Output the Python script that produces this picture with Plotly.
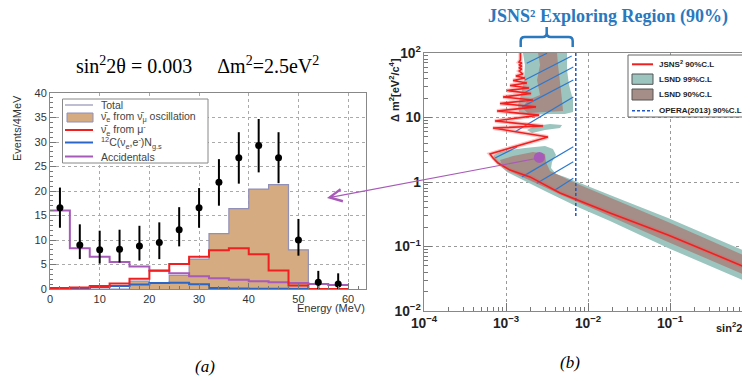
import plotly.graph_objects as go

# ---------------- (a) energy spectrum ----------------
energy_edges = [0, 4, 8, 12, 16, 20, 24, 28, 32, 36, 40, 44, 48, 52, 56, 60]
data_E = [2, 6, 10, 14, 18, 22, 26, 30, 34, 38, 42, 46, 50, 54, 58]
data_N = [16.6, 9.0, 8.0, 8.1, 8.8, 9.5, 12.1, 16.6, 21.8, 26.8, 29.3, 26.8, 10.0, 1.4, 1.0]
data_err_up = [4.1, 4.2, 3.9, 4.0, 4.1, 4.1, 4.6, 4.0, 4.7, 5.2, 5.4, 5.2, 4.3, 2.3, 2.2]
data_err_dn = [4.1, 2.9, 2.8, 2.7, 3.0, 3.4, 3.4, 4.1, 4.8, 5.3, 5.5, 5.2, 3.2, 1.4, 1.0]
osc_signal = [0, 0, 0, 0, 1.6, 1.2, 2.8, 6.1, 11.3, 16.4, 20.4, 21.3, 8.0, 0, 0]
mu_decay = [0.2, 0.3, 0.6, 1.1, 2.1, 3.7, 5.1, 6.6, 7.9, 8.3, 7.1, 3.8, 0.7, 0, 0]
carbon_gs = [0.1, 0.2, 0.4, 0.6, 0.9, 1.2, 1.25, 0.95, 0.2, 0.08, 0.05, 0.03, 0.02, 0.01, 0.0]
accidentals = [16.0, 8.3, 6.6, 5.5, 4.6, 3.8, 3.2, 2.6, 2.2, 1.9, 1.6, 1.4, 1.2, 1.0, 0.8]
left_xticks = [0, 10, 20, 30, 40, 50, 60]
left_yticks = [0, 5, 10, 15, 20, 25, 30, 35, 40]

# ---------------- (b) exclusion plot ----------------
jsns_s2t = [1.50e-3, 1.50e-3, 1.44e-3, 1.56e-3, 1.44e-3, 1.56e-3, 1.44e-3, 1.56e-3, 1.45e-3,
            1.61e-3, 1.32e-3, 1.70e-3, 1.22e-3, 1.80e-3, 1.12e-3, 1.91e-3, 1.03e-3, 2.02e-3,
            9.2e-4, 2.13e-3, 8.45e-4, 2.32e-3, 7.77e-4, 2.53e-3, 7.34e-4, 2.83e-3, 6.94e-4,
            3.25e-3, 6.38e-4, 6.94e-4, 7.99e-4, 1.12e-3, 1.96e-3, 4.56e-3, 1.855e-2, 9.46e-2, 1.0]
jsns_dm2 = [100, 77.9, 72.5, 70.0, 65.2, 62.9, 58.5, 56.5, 52.6,
            47.2, 44.0, 41.0, 37.5, 34.3, 31.3, 28.7, 26.2, 23.6,
            20.8, 18.7, 16.5, 14.6, 12.6, 10.9, 8.83, 7.38, 6.87,
            4.99, 2.72, 2.36, 1.97, 1.53, 1.20, 0.675, 0.331, 0.151, 0.0433]

lsnd99_top_s2t = [1.61e-3, 1.70e-3, 1.66e-3, 1.52e-3, 1.40e-3, 1.44e-3, 1.96e-3, 3.44e-3,
                  5.24e-3, 6.56e-3, 6.56e-3, 5.87e-3, 5.55e-3, 5.55e-3]
lsnd99_top_dm2 = [100, 65.2, 38.1, 22.3, 15.6, 12.2, 10.9, 11.3, 11.3, 12.2, 18.7, 31.9, 54.5, 100]
lsnd99_mid_s2t = [1.80e-3, 2.26e-3, 3.44e-3, 4.82e-3, 4.56e-3, 2.99e-3, 2.08e-3]
lsnd99_mid_dm2 = [6.40, 7.38, 7.93, 7.65, 6.87, 6.40, 5.75]
lsnd99_low_s2t = [7.14e-4, 8.45e-4, 1.12e-3, 1.70e-3, 2.99e-3, 3.74e-3, 4.07e-3, 3.64e-3,
                  3.54e-3, 4.07e-3, 5.24e-3, 7.99e-3, 2.455e-2, 9.46e-2, 1.0,
                  1.0, 9.46e-2, 1.855e-2, 7.99e-3, 3.16e-3, 1.80e-3, 1.03e-3, 7.77e-4, 6.94e-4]
lsnd99_low_dm2 = [2.62, 2.92, 3.13, 3.37, 3.61, 3.25, 2.62, 2.04,
                  1.65, 1.33, 1.20, 0.965, 0.545, 0.277, 0.0766,
                  0.0262, 0.0948, 0.248, 0.395, 0.700, 1.0, 1.43, 1.97, 2.36]
lsnd90_top_s2t = [2.46e-3, 2.60e-3, 2.39e-3, 2.60e-3, 1.85e-3, 1.57e-3, 1.85e-3, 2.99e-3,
                  4.96e-3, 4.82e-3, 4.56e-3, 4.31e-3, 4.19e-3]
lsnd90_top_dm2 = [100, 65.2, 38.1, 22.3, 18.7, 14.0, 11.7, 12.2, 12.6, 18.7, 31.9, 65.2, 100]
lsnd90_low_s2t = [8.45e-4, 1.22e-3, 2.13e-3, 2.99e-3, 3.07e-3, 3.44e-3, 5.55e-3, 7.99e-3,
                  9.46e-2, 1.0, 1.0, 9.46e-2, 7.99e-3, 3.16e-3, 1.48e-3, 9.19e-4]
lsnd90_low_dm2 = [2.19, 2.53, 2.92, 2.72, 2.04, 1.48, 1.11, 0.898,
                  0.240, 0.064, 0.0325, 0.1174, 0.472, 0.807, 1.24, 1.71]

hatch_s2t_a = [1.79e-3, 1.70e-3, 1.63e-3, 1.57e-3, 1.29e-3, 7.34e-4, 1.57e-3, 2.37e-3, 3.96e-3]
hatch_dm2_a = [69.2, 38.1, 23.7, 14.6, 6.02, 2.36, 1.20, 0.954, 0.752]
hatch_s2t_b = [3.16e-3, 6.32e-3, 6.62e-3, 6.62e-3, 6.62e-3, 1.36e-3, 6.62e-3, 6.62e-3, 6.62e-3]
hatch_dm2_b = [99.0, 89.8, 60.7, 38.1, 20.8, 3.49, 3.53, 2.06, 1.14]

opera_s2t = [7.1e-3, 7.1e-3]
opera_dm2 = [100, 0.29]
test_point_s2t = [2.55e-3]
test_point_dm2 = [2.4]

W, H = 750, 381
OFF = 8  # page body margin in the browser


def px(x):
    return (x - OFF) / W


def py(y):
    return 1 - (y - OFF) / H


C_TAN = "#d5ab82"
C_TOTAL = "#9090b8"
C_RED = "#f02020"
C_BLUE = "#2a66c8"
C_PURPLE = "#a85ab8"
C_TEAL = "#9cc5bf"
C_BROWN = "#a48e87"
C_HATCH = "#2a78d0"
C_TITLE = "#2a78be"
SANS = "Liberation Sans"
SERIF = "Liberation Serif"
NB = "\u00a0"

fig = go.Figure()


def steps(vals):
    return list(vals) + [vals[-1]]


# oscillation signal (filled) with total outline
fig.add_trace(go.Scatter(x=energy_edges, y=steps(osc_signal), mode="lines",
                         line=dict(shape="hv", color=C_TOTAL, width=1.2),
                         fill="tozeroy", fillcolor=C_TAN, showlegend=False,
                         xaxis="x", yaxis="y"))
for vals, col in [(carbon_gs, C_BLUE), (accidentals, C_PURPLE), (mu_decay, C_RED)]:
    fig.add_trace(go.Scatter(x=energy_edges, y=steps(vals), mode="lines",
                             line=dict(shape="hv", color=col, width=2),
                             showlegend=False, xaxis="x", yaxis="y"))
fig.add_trace(go.Scatter(x=data_E, y=data_N, mode="markers",
                         marker=dict(color="black", size=7),
                         error_y=dict(type="data", symmetric=False, array=data_err_up,
                                      arrayminus=data_err_dn, color="black",
                                      thickness=2, width=0),
                         showlegend=False, xaxis="x", yaxis="y"))

# ---- right panel ----
for sx, sy, col in [(lsnd99_top_s2t, lsnd99_top_dm2, C_TEAL),
                    (lsnd99_mid_s2t, lsnd99_mid_dm2, C_TEAL),
                    (lsnd99_low_s2t, lsnd99_low_dm2, C_TEAL),
                    (lsnd90_top_s2t, lsnd90_top_dm2, C_BROWN),
                    (lsnd90_low_s2t, lsnd90_low_dm2, C_BROWN)]:
    fig.add_trace(go.Scatter(x=sx, y=sy, mode="lines", fill="toself", fillcolor=col,
                             line=dict(width=0, color=col), showlegend=False,
                             xaxis="x2", yaxis="y2"))

hx, hy = [], []
for a, b, c, d in zip(hatch_s2t_a, hatch_dm2_a, hatch_s2t_b, hatch_dm2_b):
    hx += [a, c, None]
    hy += [b, d, None]
fig.add_trace(go.Scatter(x=hx, y=hy, mode="lines", line=dict(color=C_HATCH, width=1.2),
                         showlegend=False, xaxis="x2", yaxis="y2"))
fig.add_trace(go.Scatter(x=opera_s2t, y=opera_dm2, mode="lines",
                         line=dict(color="#2255c0", width=1.5, dash="3px,2px"),
                         showlegend=False, xaxis="x2", yaxis="y2"))
fig.add_trace(go.Scatter(x=jsns_s2t, y=jsns_dm2, mode="lines",
                         line=dict(color="rgba(240,90,90,0.35)", width=4),
                         showlegend=False, xaxis="x2", yaxis="y2"))
fig.add_trace(go.Scatter(x=jsns_s2t, y=jsns_dm2, mode="lines",
                         line=dict(color=C_RED, width=1.6),
                         showlegend=False, xaxis="x2", yaxis="y2"))
fig.add_trace(go.Scatter(x=test_point_s2t, y=test_point_dm2, mode="markers",
                         marker=dict(color=C_PURPLE, size=11),
                         showlegend=False, xaxis="x2", yaxis="y2"))

tickfont_l = dict(family=SANS, size=11, color="#333")
tickfont_r = dict(family=SANS, size=11, color="#222", weight="bold")

fig.update_layout(
    width=W, height=H, margin=dict(l=0, r=0, t=0, b=0, autoexpand=False),
    paper_bgcolor="white", plot_bgcolor="white",
    xaxis=dict(domain=[px(50), px(366)], range=[0, 63.6], tickvals=left_xticks,
               ticks="inside", ticklen=6, tickcolor="#777", automargin=False,
               minor=dict(ticks="inside", ticklen=3, dtick=2, tickcolor="#777"),
               showgrid=True, gridcolor="#aaa", griddash="dot", zeroline=False,
               showline=True, linecolor="#888", mirror=True, tickfont=tickfont_l,
               anchor="y"),
    yaxis=dict(domain=[py(289), py(93)], range=[0, 40], tickvals=left_yticks,
               ticks="inside", ticklen=6, tickcolor="#777", automargin=False,
               minor=dict(ticks="inside", ticklen=3, dtick=1, tickcolor="#777"),
               showgrid=True, gridcolor="#aaa", griddash="dot", zeroline=False,
               showline=True, linecolor="#888", mirror=True, tickfont=tickfont_l,
               anchor="x"),
    xaxis2=dict(domain=[px(424), px(750)], type="log", range=[-4, -0.0244], dtick=1,
                exponentformat="power", ticks="inside", ticklen=8, tickcolor="#777",
                automargin=False,
                minor=dict(ticks="inside", ticklen=4, tickcolor="#777"),
                showgrid=True, gridcolor="#999", griddash="dot", zeroline=False,
                showline=True, linecolor="#888", mirror=True, tickfont=tickfont_r,
                anchor="y2"),
    yaxis2=dict(domain=[py(311), py(53)], type="log", range=[-2, 2], dtick=1,
                exponentformat="power", ticks="inside", ticklen=8, tickcolor="#777",
                automargin=False,
                minor=dict(ticks="inside", ticklen=4, tickcolor="#777"),
                showgrid=True, gridcolor="#999", griddash="dot", zeroline=False,
                showline=True, linecolor="#888", mirror=False, tickfont=tickfont_r,
                anchor="x2"),
)

shapes = []
annotations = []


def label(x, y, text, size, family=SANS, color="#333", xanchor="center",
          yanchor="middle", angle=0, weight="normal"):
    annotations.append(dict(xref="paper", yref="paper", x=px(x), y=py(y), text=text,
                            showarrow=False, xanchor=xanchor, yanchor=yanchor,
                            textangle=angle,
                            font=dict(family=family, size=size, color=color, weight=weight)))


# left legend
shapes.append(dict(type="rect", xref="paper", yref="paper", x0=px(62.5), x1=px(208),
                   y0=py(163), y1=py(99), fillcolor="white", line=dict(color="#888", width=1)))
leg_l = [
    ("line", C_TOTAL, 105, "Total"),
    ("box", C_TAN, 117.5, "ν\u0304<sub>e</sub> from ν\u0304<sub>μ</sub> oscillation"),
    ("line", C_RED, 130, "ν\u0304<sub>e</sub> from μ<sup>-</sup>"),
    ("line", C_BLUE, 142.5, "<sup>12</sup>C(ν<sub>e</sub>,e<sup>-</sup>)N<sub>g.s</sub>"),
    ("line", C_PURPLE, 156.5, "Accidentals"),
]
for kind, col, yy, txt in leg_l:
    if kind == "line":
        shapes.append(dict(type="line", xref="paper", yref="paper", x0=px(65), x1=px(93),
                           y0=py(yy), y1=py(yy),
                           line=dict(color=col, width=2 if col != C_TOTAL else 1.2)))
    else:
        shapes.append(dict(type="rect", xref="paper", yref="paper", x0=px(67), x1=px(93),
                           y0=py(yy + 4.5), y1=py(yy - 4.5), fillcolor=col,
                           line=dict(color=C_TOTAL, width=1)))
    label(99, yy, txt, 10.5, xanchor="left", color="#444")

# right legend
shapes.append(dict(type="rect", xref="paper", yref="paper", x0=px(628), x1=px(770),
                   y0=py(117), y1=py(55), fillcolor="white", line=dict(color="#666", width=1)))
shapes.append(dict(type="line", xref="paper", yref="paper", x0=px(632), x1=px(653),
                   y0=py(64.3), y1=py(64.3), line=dict(color=C_RED, width=2)))
shapes.append(dict(type="rect", xref="paper", yref="paper", x0=px(632), x1=px(653),
                   y0=py(84.3), y1=py(74), fillcolor=C_TEAL, line=dict(color="#555", width=1)))
shapes.append(dict(type="rect", xref="paper", yref="paper", x0=px(632), x1=px(653),
                   y0=py(100), y1=py(89), fillcolor=C_BROWN, line=dict(color="#555", width=1)))
shapes.append(dict(type="line", xref="paper", yref="paper", x0=px(632), x1=px(653),
                   y0=py(110.7), y1=py(110.7),
                   line=dict(color="#2255c0", width=1.5, dash="3px,2px")))
for yy, txt in [(64.3, "JSNS<sup>2</sup> 90%C.L"), (79.2, "LSND 99%C.L"),
                (94.5, "LSND 90%C.L"), (110.7, "OPERA(2013) 90%C.L")]:
    label(657, yy, txt, 8, xanchor="left", color="#222", weight="bold")


# brace under right title
def P(x, y):
    return f"{px(x):.5f},{py(y):.5f}"


brace = (f"M{P(520.7,47)} L{P(520.7,41)} Q{P(520.7,37)} {P(524.7,37)} L{P(542.7,37)} "
         f"Q{P(546.7,37)} {P(546.7,33)} L{P(546.7,27)} M{P(546.7,33)} Q{P(546.7,37)} {P(550.7,37)} "
         f"L{P(568.7,37)} Q{P(572.7,37)} {P(572.7,41)} L{P(572.7,47)}")
shapes.append(dict(type="path", xref="paper", yref="paper", path=brace,
                   line=dict(color=C_TITLE, width=2.5)))

# titles and labels
label(197, 65, f"sin<sup>2</sup>2θ = 0.003{NB*5}Δm<sup>2</sup>=2.5eV<sup>2</sup>", 20,
      family=SERIF, color="black")
label(607.5, 16.5, "<b>JSNS\u00b2 Exploring Region (90%)</b>", 18, family=SERIF,
      color=C_TITLE)
label(17, 93, "Events/4MeV", 11, yanchor="top", angle=-90)
label(367, 308, "Energy (MeV)", 11, xanchor="right")
label(394, 56, "Δ m<sup>2</sup>[eV<sup>2</sup>/c<sup>4</sup>]", 11, yanchor="top", angle=-90,
      color="#222", weight="bold")
label(750, 327, "sin<sup>2</sup>2θ", 11, xanchor="right", color="#222", weight="bold")
label(205, 366, "<i>(a)</i>", 17, family=SERIF, color="black")
label(570, 362, "<i>(b)</i>", 17, family=SERIF, color="black")

annotations.append(dict(xref="paper", yref="paper", x=px(327), y=py(198),
                        ax=539 - 327, ay=158 - 198, text="", showarrow=True,
                        arrowhead=5, arrowsize=2.2, arrowwidth=1.1, arrowcolor=C_PURPLE))

fig.update_layout(shapes=shapes, annotations=annotations)
fig.write_html("out.html")
